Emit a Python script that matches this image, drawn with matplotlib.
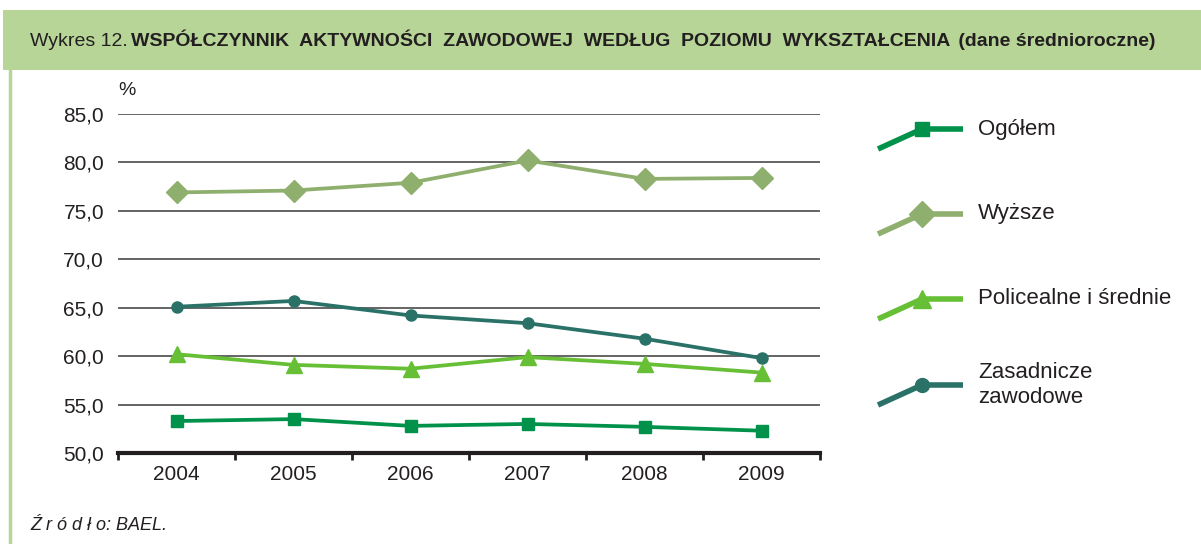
import numpy as np
import matplotlib
matplotlib.use("Agg")
import matplotlib.pyplot as plt
from matplotlib import font_manager
from matplotlib.patches import Rectangle

names = {f.name for f in font_manager.fontManager.ttflist}
narrow = "Liberation Sans Narrow" if "Liberation Sans Narrow" in names else "Liberation Sans"
plt.rcParams['font.family'] = [narrow, 'DejaVu Sans']

years = ["2004", "2005", "2006", "2007", "2008", "2009"]
ogolem = [53.3, 53.5, 52.8, 53.0, 52.7, 52.3]
wyzsze = [76.9, 77.1, 77.9, 80.2, 78.3, 78.4]
policealne = [60.2, 59.1, 58.7, 59.9, 59.2, 58.3]
zasadnicze = [65.1, 65.7, 64.2, 63.4, 61.8, 59.8]
y_ticks = [50, 55, 60, 65, 70, 75, 80, 85]

series = [
    ("Ogółem", ogolem, "#00914a", "s", 8),
    ("Wyższe", wyzsze, "#8faf6e", "D", 11),
    ("Policealne i średnie", policealne, "#67bf35", "^", 11),
    ("Zasadnicze\nzawodowe", zasadnicze, "#2a7268", "o", 8),
]

W, H = 1201, 544
fig = plt.figure(figsize=(W / 100, H / 100), dpi=100)
fig.patch.set_facecolor("white")

# overlay in pixel coords for header, border, legend
ov = fig.add_axes([0, 0, 1, 1], zorder=0)
ov.set_xlim(0, W)
ov.set_ylim(H, 0)
ov.axis("off")
ov.add_patch(Rectangle((3, 10), W - 3, 60, color="#b8d598", lw=0))
ov.plot([10, 10], [70, H], color="#b8d598", lw=2.5)

ax = fig.add_axes([118 / W, (H - 453) / H, (820 - 118) / W, (453 - 114) / H], zorder=1)
ax.patch.set_alpha(0)
x = np.arange(len(years))
for name, vals, col, mk, ms in series:
    ax.plot(x, vals, color=col, lw=2.7, marker=mk, ms=ms, zorder=3)

ax.set_xlim(-0.5, len(years) - 0.5)
ax.set_ylim(50, 85)
ax.set_yticks(y_ticks)
ax.set_yticklabels([f"{v:.1f}".replace(".", ",") for v in y_ticks], fontsize=15, color="#231f20")
ax.set_xticks(x)
ax.set_xticklabels(years, fontsize=15, color="#231f20")
ax.set_xticks(np.arange(len(years) + 1) - 0.5, minor=True)
ax.tick_params(axis="x", which="major", length=0, pad=9)
ax.tick_params(axis="x", which="minor", length=5, width=2, color="#231f20", direction="out")
ax.tick_params(axis="y", length=0, pad=10)
ax.grid(axis="y", color="#3a3a3a", lw=1.1)
for s in ["top", "right", "left"]:
    ax.spines[s].set_visible(False)
ax.spines["bottom"].set_linewidth(3)
ax.spines["bottom"].set_color("#231f20")
ax.set_axisbelow(True)
ax.text(0, 1.045, "%", transform=ax.transAxes, ha="left", va="bottom", fontsize=14, color="#231f20")

# legend
ly = [129, 214, 299, 385]
for (name, vals, col, mk, ms), yy in zip(series, ly):
    ov.plot([878, 922, 963], [yy + 20, yy, yy], color=col, lw=4, solid_capstyle="butt")
    ov.plot([922], [yy], marker=mk, color=col, ms=ms + 2)
    ov.text(978, yy, name, fontsize=16, va="center", ha="left", color="#231f20", linespacing=1.25)

# title with mixed weights
parts = [("Wykres 12.", "normal"),
         ("WSPÓŁCZYNNIK  AKTYWNOŚCI  ZAWODOWEJ  WEDŁUG  POZIOMU  WYKSZTAŁCENIA", "bold"),
         (" (dane średnioroczne)", "bold")]
fig.canvas.draw()
r = fig.canvas.get_renderer()
xpos = 30
for txt, wt in parts:
    t = ov.text(xpos, 42, txt, fontsize=14, fontweight=wt, va="center", ha="left", color="#231f20")
    bb = t.get_window_extent(r)
    xpos += bb.width + 3

ov.text(30, 525, "Ź r ó d ł o: BAEL.", fontsize=13, style="italic", va="center", ha="left", color="#231f20")

fig.savefig("out.png", dpi=100)
